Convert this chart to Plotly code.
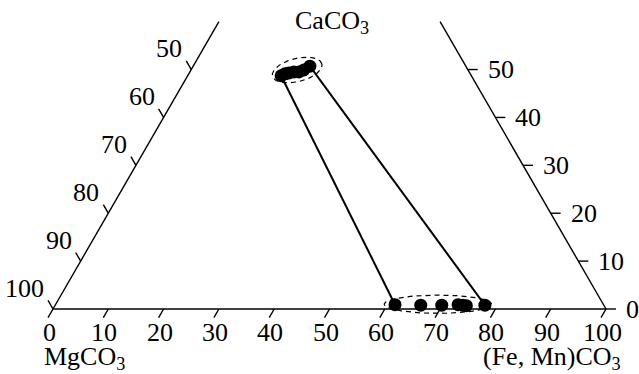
import numpy as np
import plotly.graph_objects as go

# ---- data (mol %) : (Fe,Mn)CO3 and CaCO3; MgCO3 = remainder ----
ank_fe = [16.9, 17.4, 18.0, 18.8, 19.7, 20.4, 21.1]
ank_ca = [48.7, 49.1, 49.3, 49.5, 49.5, 49.9, 50.7]
sid_fe = [61.4, 66.1, 69.9, 72.8, 73.7, 74.4, 77.7]
sid_ca = [0.9, 0.8, 0.8, 0.9, 0.8, 0.7, 0.8]

# tie lines: (index in ankerite list, index in siderite list)
tie_pairs = [(0, 0), (6, 6)]

# dashed field outlines: centre (Fe, Ca), semi-axes, rotation (deg)
ellipse_fe = [19.2, 69.1]
ellipse_ca = [49.9, 1.0]
ellipse_a = [4.6, 9.7]
ellipse_b = [2.1, 1.65]
ellipse_rot = [14, 0]

bottom_ticks = [0, 10, 20, 30, 40, 50, 60, 70, 80, 90, 100]   # (Fe,Mn)CO3
left_ticks = [50, 60, 70, 80, 90, 100]                         # MgCO3
right_ticks = [0, 10, 20, 30, 40, 50]                          # CaCO3
ca_top = 60

S3 = np.sqrt(3) / 2


def tern(fe, ca):
    fe = np.asarray(fe, float)
    ca = np.asarray(ca, float)
    return fe + ca / 2, ca * S3


FONT = dict(family="Liberation Serif, Times New Roman, serif", size=26, color="black")
TL = 1.8  # tick length in composition units

fig = go.Figure()

# frame edges
ex, ey = [], []
for fe, ca in [([0, 0], [0, ca_top]), ([100, 100 - ca_top], [0, ca_top]), ([0, 100], [0, 0])]:
    u, v = tern(fe, ca)
    ex += list(u) + [None]
    ey += list(v) + [None]
fig.add_trace(go.Scatter(x=ex, y=ey, mode="lines", line=dict(color="black", width=1.4),
                         hoverinfo="skip", showlegend=False))

# ticks
tx, ty = [], []
anns = []
for t in bottom_ticks:
    u, v = tern(t, 0)
    tx += [u, u - 0.5 * TL, None]
    ty += [v, v - S3 * TL, None]
    anns.append(dict(x=float(u), y=float(v), text=str(t), showarrow=False, xanchor="center",
                     yanchor="middle", xshift=-4, yshift=-23))
for t in left_ticks:
    u, v = tern(0, 100 - t)
    tx += [u, u - 0.5 * TL, None]
    ty += [v, v + S3 * TL, None]
    anns.append(dict(x=float(u), y=float(v), text=str(t), showarrow=False, xanchor="right",
                     yanchor="middle", xshift=-7, yshift=21))
for t in right_ticks:
    u, v = tern(100 - t, t)
    tx += [u, u + TL, None]
    ty += [v, v, None]
    anns.append(dict(x=float(u), y=float(v), text=str(t), showarrow=False, xanchor="left",
                     yanchor="middle", xshift=18, yshift=0))
fig.add_trace(go.Scatter(x=tx, y=ty, mode="lines", line=dict(color="black", width=1.4),
                         hoverinfo="skip", showlegend=False))

# dashed ellipses
th = np.linspace(0, 2 * np.pi, 120)
for fe, ca, a, b, r in zip(ellipse_fe, ellipse_ca, ellipse_a, ellipse_b, ellipse_rot):
    cu, cv = tern(fe, ca)
    rr = np.deg2rad(r)
    xe = a * np.cos(th)
    ye = b * np.sin(th)
    fig.add_trace(go.Scatter(x=cu + xe * np.cos(rr) - ye * np.sin(rr),
                             y=cv + xe * np.sin(rr) + ye * np.cos(rr),
                             mode="lines", line=dict(color="black", width=1.2, dash="5px,4px"),
                             hoverinfo="skip", showlegend=False))

# tie lines
for i, j in tie_pairs:
    u1, v1 = tern(ank_fe[i], ank_ca[i])
    u2, v2 = tern(sid_fe[j], sid_ca[j])
    fig.add_trace(go.Scatter(x=[u1, u2], y=[v1, v2], mode="lines",
                             line=dict(color="black", width=2), showlegend=False))

# points
for fe, ca in [(ank_fe, ank_ca), (sid_fe, sid_ca)]:
    u, v = tern(fe, ca)
    fig.add_trace(go.Scatter(x=u, y=v, mode="markers",
                             marker=dict(color="black", size=13, line=dict(width=0)),
                             showlegend=False))

# component labels
u, v = tern(0, 100)
_, vt = tern(0, ca_top)
anns.append(dict(x=float(u), y=float(vt), text="CaCO<sub>3</sub>", showarrow=False,
                 xanchor="center", yanchor="middle", xshift=2, yshift=0))
anns.append(dict(x=0.0, y=0.0, text="MgCO<sub>3</sub>", showarrow=False,
                 xanchor="left", yanchor="top", xshift=-11, yshift=-31))
anns.append(dict(x=100.0, y=0.0, text="(Fe, Mn)CO<sub>3</sub>", showarrow=False,
                 xanchor="right", yanchor="top", xshift=17, yshift=-31))
for a in anns:
    a["font"] = FONT

PX = 5.53          # pixels per composition unit
OX, OY = 53, 309   # pixel of the MgCO3 corner
W, H = 639, 374
fig.update_layout(
    width=W, height=H, margin=dict(l=0, r=0, t=0, b=0),
    paper_bgcolor="white", plot_bgcolor="white",
    xaxis=dict(range=[-OX / PX, (W - OX) / PX], visible=False, fixedrange=True),
    yaxis=dict(range=[(OY - H) / PX, OY / PX], visible=False, fixedrange=True),
    annotations=anns, hovermode=False,
)
fig.write_html("out.html", config={"displayModeBar": False, "staticPlot": True},
               post_script="document.body.style.margin='0';document.body.style.overflow='hidden';")
